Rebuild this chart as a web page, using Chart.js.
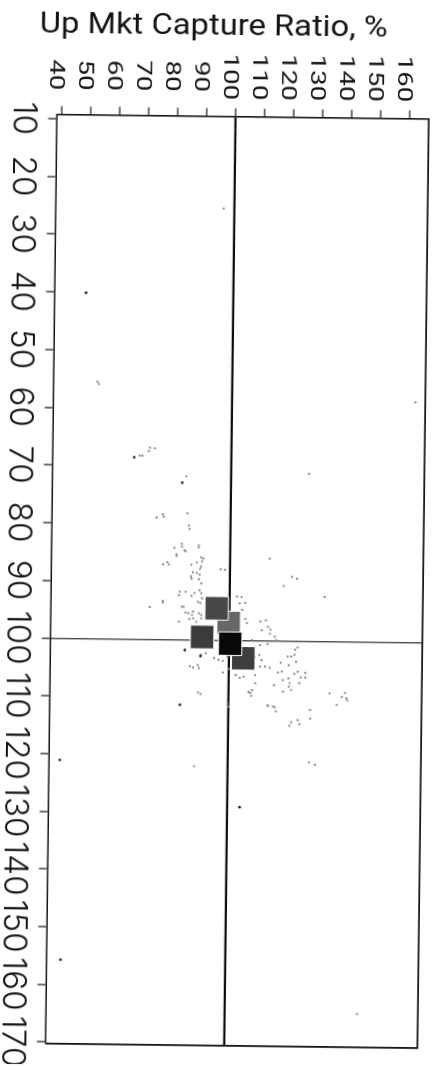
<!DOCTYPE html>
<html>
<head>
<meta charset="utf-8">
<script src="https://cdn.jsdelivr.net/npm/chart.js@4.4.1/dist/chart.umd.min.js"></script>
<style>
  html, body { margin: 0; padding: 0; background: #fff; overflow: hidden; width: 441px; height: 1067px; }
  /* the plot is laid out landscape and turned a quarter turn (plus a slight tilt) onto the page */
  #page { position: absolute; left: 0; top: 0; width: 441px; height: 1067px;
          transform-origin: 242px 580px; transform: rotate(0.7deg); }
  #turn { position: absolute; left: 0; top: 0; width: 1067px; height: 441px;
          transform-origin: 0 0; transform: translate(441px, 0) rotate(90deg); }
  canvas { display: block; }
</style>
</head>
<body>
<div id="page"><div id="turn">
  <canvas id="c" width="1067" height="441" style="width:1067px;height:441px"></canvas>
</div></div>
<script>
// Axis ticks
const downTicks = [10, 20, 30, 40, 50, 60, 70, 80, 90, 100, 110, 120, 130, 140, 150, 160, 170];
const upTicks = [40, 50, 60, 70, 80, 90, 100, 110, 120, 130, 140, 150, 160];
const titleText = 'Up Mkt Capture Ratio, %';

// Peer universe (Down capture %, Up capture %)
const peerDown = [25.2, 55.5, 55.9, 58.4, 66.8, 66.9, 67.4, 68.2, 68.2, 71.0, 71.7, 78.1, 78.3, 78.7, 78.9,
  80.2, 80.8, 83.4, 83.9, 84.1, 84.5, 84.7, 83.6, 84.0, 85.2, 85.5, 85.7, 85.9, 86.4, 87.0, 86.6, 87.0,
  87.0, 86.6, 87.3, 87.7, 88.3, 88.4, 88.7, 89.0, 89.4, 89.5, 87.7, 87.8, 85.8, 88.9, 89.2, 90.2, 91.7,
  92.3, 91.7, 93.3, 93.6, 94.3, 94.3, 92.4, 91.9, 91.4, 91.9, 92.8, 93.4, 93.6, 95.4, 95.1, 95.4, 95.7,
  96.9, 96.9, 94.4, 92.4, 92.5, 93.5, 93.6, 94.7, 96.3, 97.0, 96.7, 96.5, 97.6, 98.2, 98.1, 98.8, 99.9,
  100.8, 100.6, 103.1, 103.4, 103.6, 102.9, 104.6, 104.8, 104.4, 104.9, 105.6, 105.0, 106.0, 106.3, 106.5,
  106.0, 104.5, 104.5, 104.7, 107.7, 107.4, 108.6, 109.1, 109.6, 109.1, 109.4, 111.0, 111.5, 111.3, 111.4,
  102.5, 102.8, 103.4, 102.6, 102.3, 103.8, 105.5, 105.3, 106.8, 102.7, 102.7, 104.2, 102.4, 103.6, 106.5,
  107.3, 107.9, 108.5, 105.7, 105.3, 106.3, 107.3, 105.5, 106.3, 108.8, 108.9, 111.2, 111.5, 112.2, 111.9,
  113.4, 109.0, 111.0, 109.6, 108.9, 109.8, 110.2, 113.7, 114.4, 114.7, 114.1, 121.0, 121.4, 90.5, 92.3,
  99.3, 99.9, 101.5, 101.1, 95.3, 96.4, 96.3, 121.9, 164.5, 96.3, 95.7];
const peerUp = [96.1, 53.3, 53.9, 163.1, 71.7, 73.4, 71.3, 68.2, 69.1, 126.7, 84.4, 84.9, 76.4, 76.8, 74.3,
  85.4, 85.7, 83.1, 83.2, 80.6, 84.1, 84.4, 89.0, 89.0, 81.3, 81.4, 89.8, 90.6, 90.2, 76.7, 78.2, 78.7,
  86.5, 88.4, 89.8, 89.5, 87.1, 88.4, 89.4, 86.4, 86.6, 89.1, 96.6, 98.1, 113.5, 121.3, 123.0, 90.0, 82.6,
  82.3, 84.6, 76.8, 76.8, 83.3, 84.0, 86.6, 87.7, 89.4, 90.0, 90.3, 88.9, 89.7, 85.6, 87.2, 89.3, 90.1,
  82.4, 88.4, 72.3, 102.4, 103.9, 105.2, 103.3, 104.2, 105.3, 105.9, 110.5, 112.4, 113.2, 111.0, 114.1, 113.9, 107.7,
  110.5, 113.1, 94.7, 96.2, 97.7, 99.3, 86.4, 87.5, 89.1, 89.5, 97.8, 99.8, 102.2, 105.0, 103.6,
  108.9, 110.6, 112.3, 114.0, 115.5, 109.0, 107.9, 107.3, 107.7, 89.3, 90.2, 99.5, 99.8, 113.5, 115.2,
  110.3, 108.8, 111.1, 90.2, 91.9, 117.7, 116.8, 118.1, 118.5, 120.1, 121.3, 120.5, 122.4, 123.0, 120.4,
  120.8, 120.6, 121.4, 122.4, 123.6, 124.7, 124.2, 126.2, 126.2, 118.6, 106.7, 113.3, 115.8, 116.2, 128.0,
  128.1, 134.7, 137.2, 138.9, 140.0, 140.5, 140.8, 123.8, 124.4, 121.0, 121.6, 127.9, 129.9, 118.4, 132.6,
  115.5, 116.1, 122.6, 123.5, 84.6, 86.0, 87.3, 88.2, 145.5, 90.1, 86.9];

// Peers printed in a darker ink
const darkDown = [40.1, 68.5, 72.8, 101.8, 102.8, 111.3, 121.1, 128.9, 155.7];
const darkUp = [49.0, 66.3, 83.0, 84.6, 90.0, 83.1, 41.9, 104.1, 43.0];

// Highlighted funds (square markers), drawn back to front
const fundDown = [97.0, 94.5, 99.5, 103.1, 100.6];
const fundUp = [99.6, 95.4, 90.5, 104.8, 100.2];
const fundColors = ['#676767', '#474747', '#3b3b3b', '#3e3e3e', '#090909'];

const INK = '#141414';
const pts = (xs, ys) => xs.map((v, i) => ({ x: v, y: ys[i] }));
const fixedTicks = list => scale => { scale.ticks = list.map(v => ({ value: v })); };

// Tick labels and the axis title, placed from the scales
const labelPlugin = {
  id: 'axisText',
  afterDraw(chart) {
    const { ctx, chartArea } = chart;
    const xs = chart.scales.x, ys = chart.scales.y;
    ctx.save();
    ctx.fillStyle = INK;
    ctx.textAlign = 'center';
    ctx.textBaseline = 'alphabetic';

    // Down-capture labels: proportional figures, two zeros about 41px long
    ctx.font = '300 33px Inter, "Noto Sans", sans-serif';
    const kx = 41 / ctx.measureText('00').width;
    for (const t of xs.ticks) {
      ctx.save();
      ctx.translate(xs.getPixelForValue(t.value), chartArea.bottom + 43);
      ctx.scale(kx, 1);
      ctx.fillText(String(t.value), 0, 0);
      ctx.restore();
    }

    // Up-capture labels: tabular figures, two digits about 31px long
    ctx.font = '20px Roboto, "Open Sans", sans-serif';
    const ky = 31 / ctx.measureText('00').width;
    for (const t of ys.ticks) {
      ctx.save();
      ctx.translate(77, ys.getPixelForValue(t.value) + 12);
      ctx.scale(ky, 1);
      ctx.fillText(String(t.value), 0, 0);
      ctx.restore();
    }

    ctx.font = '30px Roboto, "Open Sans", sans-serif';
    const w = ctx.measureText(titleText).width;
    ctx.translate(35, 234);
    ctx.rotate(-Math.PI / 2);
    ctx.scale(348 / w, 1);
    ctx.fillText(titleText, 0, 0);
    ctx.restore();
  }
};

const refLine = (value, on, off) => c => (c.tick && c.tick.value === value ? on : off);

new Chart(document.getElementById('c'), {
  type: 'scatter',
  data: {
    datasets: [
      { label: 'Funds', data: pts(fundDown, fundUp), pointStyle: 'rect', pointRadius: 16.6,
        backgroundColor: fundColors, borderColor: '#ffffff', borderWidth: 1, order: 0 },
      { label: 'Peers (dark)', data: pts(darkDown, darkUp), pointRadius: 1.4,
        backgroundColor: '#2a2a2a', borderWidth: 0, order: 1 },
      { label: 'Peers', data: pts(peerDown, peerUp), pointRadius: 1.15,
        backgroundColor: '#888888', borderWidth: 0, order: 2 }
    ]
  },
  options: {
    responsive: false,
    animation: false,
    devicePixelRatio: 1,
    events: [],
    layout: { padding: { left: 108.5, right: 21.5, top: 9.5, bottom: 42.5 } },
    plugins: { legend: { display: false }, tooltip: { enabled: false } },
    scales: {
      x: {
        type: 'linear', position: 'bottom', min: 9.22, max: 170.2,
        afterBuildTicks: fixedTicks(downTicks),
        afterFit: s => { s.height = 9; },
        ticks: { display: false },
        grid: {
          drawOnChartArea: true,
          color: refLine(100, '#4a4a4a', 'rgba(0,0,0,0)'),
          lineWidth: refLine(100, 1.4, 0),
          tickLength: 9, tickColor: INK, tickWidth: 1.2
        },
        border: { display: true, color: INK, width: 1.6 }
      },
      y: {
        type: 'linear', position: 'left', min: 38.3, max: 166.6,
        afterBuildTicks: fixedTicks(upTicks),
        afterFit: s => { s.width = 8; },
        ticks: { display: false },
        grid: {
          drawOnChartArea: true,
          color: refLine(100, '#0d0d0d', 'rgba(0,0,0,0)'),
          lineWidth: refLine(100, 2.2, 0),
          tickLength: 8, tickColor: INK, tickWidth: 1.2
        },
        border: { display: true, color: INK, width: 1.6 }
      },
      x2: {
        type: 'linear', position: 'top', min: 0, max: 1,
        afterFit: s => { s.height = 0; },
        ticks: { display: false }, grid: { display: false },
        border: { display: true, color: INK, width: 1.8 }
      },
      y2: {
        type: 'linear', position: 'right', min: 0, max: 1,
        afterFit: s => { s.width = 0; },
        ticks: { display: false }, grid: { display: false },
        border: { display: true, color: INK, width: 1.8 }
      }
    }
  },
  plugins: [labelPlugin]
});
</script>
</body>
</html>
